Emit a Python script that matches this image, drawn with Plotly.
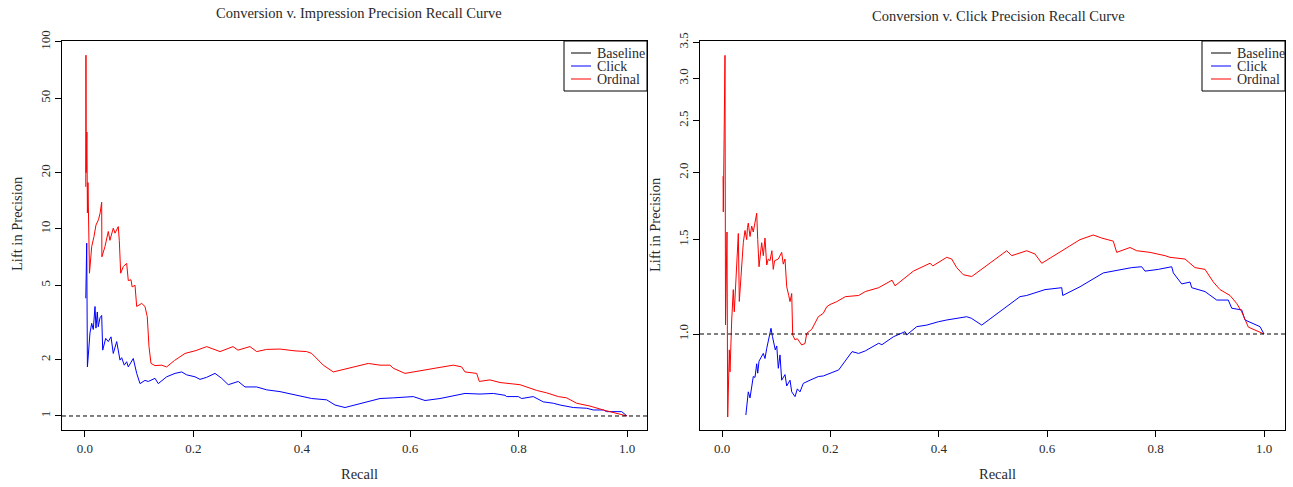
import plotly.graph_objects as go

# ---------------- data ----------------
imp_ordinal_recall = [0.0015, 0.0018, 0.0022, 0.0035, 0.0045, 0.0055, 0.0083, 0.0124, 0.0166, 0.0203,
                      0.0249, 0.028, 0.0308, 0.0312, 0.0369, 0.043, 0.046, 0.0522, 0.0554, 0.0614,
                      0.0633, 0.0659, 0.0707, 0.0769, 0.0799, 0.0849, 0.087, 0.0923, 0.0954, 0.1046,
                      0.1107, 0.1149, 0.1181, 0.1218, 0.1292, 0.1415, 0.1507, 0.165, 0.1845, 0.205,
                      0.2245, 0.2491, 0.2731, 0.2823, 0.3044, 0.3168, 0.3352, 0.3598, 0.3875, 0.409,
                      0.4183, 0.4275, 0.4397, 0.4581, 0.5227, 0.5443, 0.5627, 0.5688, 0.5904, 0.655,
                      0.6795, 0.695, 0.7011, 0.7227, 0.7275, 0.7472, 0.7657, 0.8026, 0.8334, 0.8518,
                      0.8733, 0.8887, 0.9072, 0.9317, 0.9563, 1.0]
imp_ordinal_lift = [16.8, 85, 20, 33, 12.2, 17.7, 5.8, 8.05, 9.1, 10.5,
                    11.2, 12.2, 13.9, 7.1, 8.05, 9.7, 8.7, 10.1, 9.5, 10.3,
                    8.7, 5.8, 6.3, 6.55, 5.3, 5.35, 4.9, 5.0, 3.85, 4.0,
                    3.85, 3.4, 2.35, 1.91, 1.86, 1.87, 1.83, 1.98, 2.16, 2.24,
                    2.35, 2.21, 2.35, 2.25, 2.35, 2.21, 2.27, 2.28, 2.23, 2.21,
                    2.16, 2.03, 1.87, 1.72, 1.91, 1.87, 1.87, 1.80, 1.69, 1.82,
                    1.87, 1.83, 1.72, 1.69, 1.53, 1.56, 1.51, 1.47, 1.37, 1.33,
                    1.27, 1.25, 1.17, 1.13, 1.077, 1.0]

imp_click_recall = [0.0015, 0.0018, 0.0032, 0.0045, 0.0092, 0.0124, 0.0153, 0.0185, 0.0203, 0.0227,
                    0.0245, 0.0277, 0.0308, 0.0327, 0.0382, 0.043, 0.046, 0.048, 0.0522, 0.0585,
                    0.0646, 0.0677, 0.0725, 0.0769, 0.0799, 0.0891, 0.0954, 0.1015, 0.1107, 0.1168,
                    0.1292, 0.1352, 0.1507, 0.1661, 0.1784, 0.1876, 0.203, 0.2122, 0.2245, 0.2399,
                    0.2522, 0.2644, 0.2828, 0.2952, 0.3168, 0.3352, 0.3598, 0.3906, 0.4183, 0.4459,
                    0.4613, 0.4797, 0.5443, 0.5688, 0.6057, 0.6273, 0.655, 0.7011, 0.7288, 0.7533,
                    0.7749, 0.778, 0.7994, 0.8057, 0.8271, 0.8456, 0.864, 0.8764, 0.9009, 0.9256,
                    0.9378, 0.9563, 0.9625, 0.9902, 1.0]
imp_click_lift = [4.26, 6.3, 8.4, 1.83, 2.78, 3.13, 2.9, 3.85, 2.95, 3.6,
                  3.0, 3.35, 3.45, 2.25, 2.6, 2.5, 2.6, 2.65, 2.16, 2.5,
                  1.99, 2.05, 1.87, 1.95, 1.83, 2.03, 1.69, 1.49, 1.55, 1.53,
                  1.59, 1.49, 1.62, 1.69, 1.72, 1.66, 1.62, 1.57, 1.61, 1.69,
                  1.59, 1.47, 1.53, 1.43, 1.43, 1.38, 1.35, 1.29, 1.24, 1.22,
                  1.145, 1.11, 1.24, 1.25, 1.27, 1.21, 1.24, 1.32, 1.31, 1.32,
                  1.29, 1.27, 1.27, 1.24, 1.27, 1.19, 1.17, 1.145, 1.11, 1.10,
                  1.077, 1.077, 1.055, 1.055, 1.0]

clk_ordinal_recall = [0.002, 0.0024, 0.0055, 0.0065, 0.0092, 0.0105, 0.0135, 0.0148, 0.0179, 0.0208,
                      0.0227, 0.0271, 0.0301, 0.0319, 0.0363, 0.0393, 0.0424, 0.0456, 0.047, 0.0485,
                      0.0517, 0.0548, 0.0577, 0.0609, 0.064, 0.0659, 0.0683, 0.0732, 0.0762, 0.0793,
                      0.0825, 0.0854, 0.0886, 0.092, 0.0946, 0.097, 0.1039, 0.1101, 0.113, 0.1162,
                      0.1194, 0.1231, 0.1255, 0.1286, 0.1304, 0.1347, 0.139, 0.147, 0.1531, 0.1563,
                      0.1655, 0.1777, 0.1869, 0.1932, 0.1993, 0.2116, 0.2275, 0.2522, 0.2644, 0.2891,
                      0.3137, 0.3192, 0.353, 0.3838, 0.389, 0.4146, 0.4238, 0.433, 0.4452, 0.4607,
                      0.5253, 0.5345, 0.5622, 0.5775, 0.5899, 0.6605, 0.685, 0.7006, 0.7219, 0.7282,
                      0.7528, 0.7651, 0.7897, 0.8173, 0.8266, 0.8542, 0.8727, 0.8911, 0.9065, 0.9188,
                      0.9373, 0.9496, 0.9588, 0.9711, 1.0]
clk_ordinal_lift = [1.97, 1.69, 3.31, 1.04, 1.55, 0.70, 0.934, 0.85, 1.062, 1.21,
                    1.10, 1.36, 1.54, 1.15, 1.37, 1.48, 1.56, 1.50, 1.58, 1.61,
                    1.52, 1.59, 1.55, 1.62, 1.68, 1.50, 1.335, 1.48, 1.40, 1.51,
                    1.345, 1.38, 1.37, 1.43, 1.32, 1.37, 1.38, 1.42, 1.35, 1.38,
                    1.225, 1.18, 1.149, 1.19, 0.996, 0.975, 0.98, 0.954, 0.96, 1.003,
                    1.02, 1.077, 1.093, 1.124, 1.135, 1.149, 1.174, 1.18, 1.20, 1.22,
                    1.26, 1.23, 1.31, 1.355, 1.34, 1.39, 1.38, 1.33, 1.29, 1.28,
                    1.43, 1.40, 1.43, 1.41, 1.355, 1.50, 1.53, 1.51, 1.49, 1.42,
                    1.45, 1.43, 1.42, 1.40, 1.39, 1.38, 1.33, 1.32, 1.25, 1.21,
                    1.18, 1.14, 1.10, 1.03, 1.0]

clk_click_recall = [0.044, 0.0485, 0.0517, 0.0577, 0.0609, 0.064, 0.0659, 0.0683, 0.0762, 0.0793,
                    0.0825, 0.0886, 0.0904, 0.093, 0.0983, 0.101, 0.1039, 0.107, 0.1101, 0.1162,
                    0.1194, 0.1255, 0.1286, 0.1347, 0.139, 0.1439, 0.15, 0.1624, 0.1777, 0.1869,
                    0.1993, 0.2153, 0.2399, 0.2522, 0.2644, 0.2891, 0.295, 0.3161, 0.3376, 0.3408,
                    0.3592, 0.3777, 0.3991, 0.4146, 0.4515, 0.46, 0.4792, 0.5498, 0.5622, 0.5959,
                    0.6268, 0.6286, 0.6605, 0.7035, 0.7559, 0.7743, 0.7804, 0.805, 0.8297, 0.8327,
                    0.8481, 0.8635, 0.8666, 0.8911, 0.9127, 0.9341, 0.9404, 0.9588, 0.9649, 0.9926,
                    1.0]
clk_click_lift = [0.706, 0.78, 0.76, 0.833, 0.83, 0.88, 0.845, 0.89, 0.92, 0.90,
                  0.94, 1.017, 1.025, 0.99, 0.934, 0.95, 0.863, 0.914, 0.82, 0.84,
                  0.80, 0.82, 0.78, 0.764, 0.79, 0.78, 0.809, 0.82, 0.833, 0.835,
                  0.845, 0.857, 0.927, 0.92, 0.93, 0.961, 0.955, 0.988, 1.01, 0.996,
                  1.032, 1.039, 1.054, 1.062, 1.077, 1.07, 1.039, 1.174, 1.18, 1.21,
                  1.22, 1.18, 1.225, 1.30, 1.33, 1.335, 1.31, 1.32, 1.335, 1.30,
                  1.24, 1.25, 1.22, 1.20, 1.157, 1.157, 1.117, 1.109, 1.062, 1.032,
                  1.0]

baseline_lift = 1.0
titles = ["Conversion v. Impression Precision Recall Curve", "Conversion v. Click Precision Recall Curve"]
legend_labels = ["Baseline", "Click", "Ordinal"]
x_ticks = [0.0, 0.2, 0.4, 0.6, 0.8, 1.0]
y_ticks_left = [1, 2, 5, 10, 20, 50, 100]
y_ticks_right = [1.0, 1.5, 2.0, 2.5, 3.0, 3.5]

# ---------------- styling ----------------
W, H = 1293, 487
FONT = "Liberation Serif"
TXT = "#2a2a2a"
BLUE = "#0000FF"
RED = "#FF0000"
TEXT_SIZE = 14.5


def px(x):
    return x / W


def py(y):
    return 1 - y / H


fig = go.Figure()

panels = [
    ("x", "y", imp_click_recall, imp_click_lift, imp_ordinal_recall, imp_ordinal_lift),
    ("x2", "y2", clk_click_recall, clk_click_lift, clk_ordinal_recall, clk_ordinal_lift),
]
for xa, ya, cr, cl, orr, ol in panels:
    fig.add_trace(go.Scatter(x=cr, y=cl, mode="lines", xaxis=xa, yaxis=ya,
                             line=dict(color=BLUE, width=1), showlegend=False, name="Click"))
    fig.add_trace(go.Scatter(x=orr, y=ol, mode="lines", xaxis=xa, yaxis=ya,
                             line=dict(color=RED, width=1), showlegend=False, name="Ordinal"))

# baseline dashed lines
for xa, ya in [("x", "y"), ("x2", "y2")]:
    fig.add_shape(type="line", xref=f"{xa} domain", yref=ya, x0=0, x1=1,
                  y0=baseline_lift, y1=baseline_lift,
                  line=dict(color="black", width=1, dash="4px,3px"))

axis_common = dict(showgrid=False, zeroline=False, showline=True, linecolor="black",
                   linewidth=1, mirror=True, ticks="outside", ticklen=6, tickwidth=1,
                   tickcolor="black", automargin=False,
                   tickfont=dict(family=FONT, size=13, color=TXT))

fig.update_layout(
    width=W, height=H,
    margin=dict(l=0, r=0, t=0, b=0, pad=0, autoexpand=False),
    paper_bgcolor="white", plot_bgcolor="white",
    showlegend=False,
    xaxis=dict(domain=[px(62), px(647)], range=[-0.0424, 1.0369], tickvals=x_ticks,
               ticktext=[f"{v:.1f}" for v in x_ticks], anchor="y", **axis_common),
    yaxis=dict(domain=[py(430), py(41)], type="log", range=[-0.0749, 2.0053],
               tickvals=y_ticks_left, ticktext=[str(v) for v in y_ticks_left],
               tickangle=-90, anchor="x", **axis_common),
    xaxis2=dict(domain=[px(700), px(1285)], range=[-0.0406, 1.0387], tickvals=x_ticks,
                ticktext=[f"{v:.1f}" for v in x_ticks], anchor="y2", **axis_common),
    yaxis2=dict(domain=[py(430), py(41)], type="log", range=[-0.1791, 0.5466],
                tickvals=y_ticks_right, ticktext=[f"{v:.1f}" for v in y_ticks_right],
                tickangle=-90, anchor="x2", **axis_common),
)

ann = []


def label(x, y, text, angle=0, xanchor="center", size=TEXT_SIZE):
    ann.append(dict(x=px(x), y=py(y), text=text, showarrow=False, xref="paper", yref="paper",
                    xanchor=xanchor, yanchor="middle", textangle=angle,
                    font=dict(family=FONT, size=size, color=TXT)))


# titles
label(359, 13, titles[0])
label(998, 16, titles[1])
# axis titles
for cx in (359, 997):
    label(cx, 474, "Recall")
for cx in (17, 655):
    label(cx, 224, "Lift in Precision", angle=-90)

# legends (boxes drawn manually, R style)
legend_colors = ["black", BLUE, RED]
for (bx0, bx1, lx0, lx1, tx) in [(564, 647, 571, 591, 595), (1202, 1285, 1211, 1231, 1235)]:
    fig.add_shape(type="rect", xref="paper", yref="paper", x0=px(bx0), x1=px(bx1),
                  y0=py(91), y1=py(41), line=dict(color="black", width=1), fillcolor="white")
    for i, (lab, col) in enumerate(zip(legend_labels, legend_colors)):
        yy = 53 + 13 * i
        fig.add_shape(type="line", xref="paper", yref="paper", x0=px(lx0), x1=px(lx1),
                      y0=py(yy), y1=py(yy), line=dict(color=col, width=1))
        label(tx, yy, lab, xanchor="left", size=14)

fig.update_layout(annotations=ann)
fig.write_html("out.html", config={"displayModeBar": False},
               post_script="document.body.style.margin='0px';document.body.style.padding='0px';")
